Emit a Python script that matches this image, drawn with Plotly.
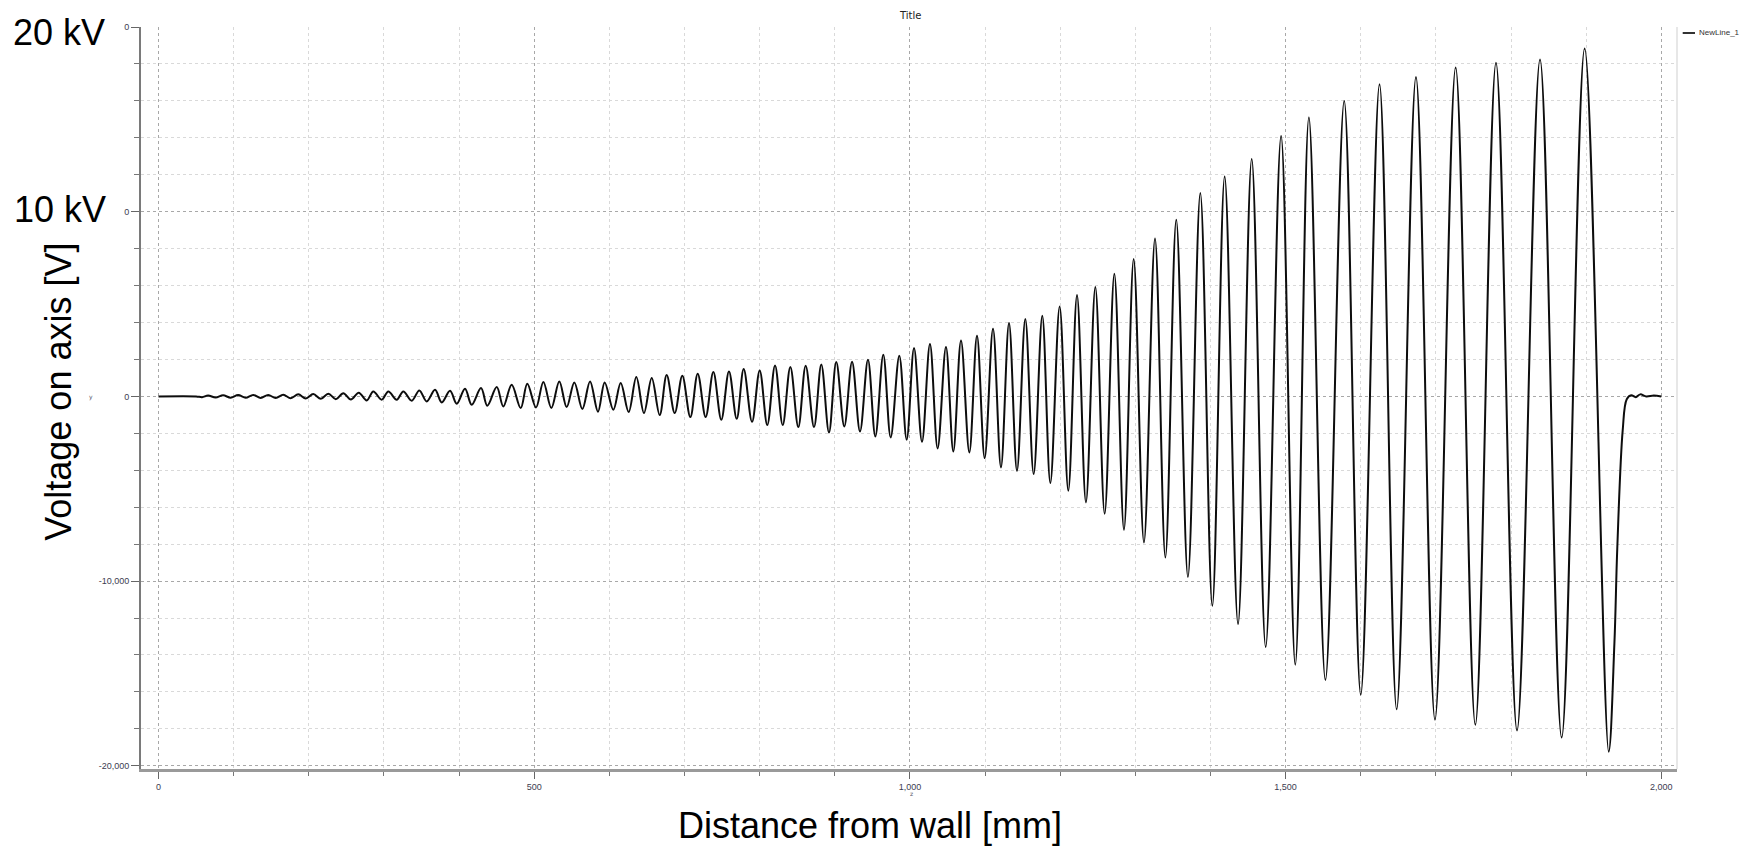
import plotly.graph_objects as go

dist_mm = [
    0, 50, 58, 66, 76, 86, 96, 106, 116, 126, 136, 146, 156, 166, 176, 186, 196, 206, 216, 226,
    236, 246, 256, 266.5, 277.1, 285.9, 297, 305.9, 317, 325.8, 337, 347.1, 357, 368, 377, 388,
    396.9, 407.9, 416.8, 429.2, 437.6, 450.1, 458.9, 470, 482, 490.8, 502.4, 512.2, 522.8, 533.4,
    543.2, 553.4, 564.1, 574.3, 584.9, 593.8, 605.3, 615.1, 625.7, 635.9, 646.1, 656.4, 667, 676.3,
    687, 697.1, 707.8, 717.6, 728.2, 738.4, 749, 759.2, 769.5, 778.8, 789.9, 800.1, 810.2, 820.5,
    830.7, 840.9, 851.5, 861.3, 872.4, 882.1, 892.3, 902, 912.7, 923, 933.6, 944.2, 954, 964.6,
    974.4, 985.9, 995.7, 1005.5, 1016.1, 1026.7, 1036.9, 1048, 1057.8, 1068, 1079.1, 1089.3,
    1099.5, 1110.6, 1121.2, 1131.9, 1142.5, 1153.6, 1164.7, 1176.2, 1186.9, 1199.3, 1210.8,
    1222.4, 1234.3, 1246.8, 1259.2, 1272.1, 1284.9, 1297.8, 1311.5, 1326.2, 1340, 1354.5, 1370,
    1386.5, 1402.5, 1418.9, 1436.7, 1454.9, 1473.5, 1494, 1512.9, 1531, 1553, 1578, 1600, 1625,
    1647.8, 1673.5, 1698.8, 1726.3, 1752.5, 1780, 1808, 1838.6, 1867.4, 1898, 1930, 1937.6,
    1941.4, 1948.6, 1954, 1960, 1966, 1972, 1980, 1990, 2000,
]
volt_v = [
    0, 0, -40, 50, -60, 60, -70, 70, -70, 80, -80, 80, -90, 90, -100, 110, -110, 130, -130, 150,
    -150, 170, -170, 200, -217, 271, -180, 271, -180, 271, -235, 325, -271, 361, -325, 307,
    -397, 415, -451, 451, -505, 505, -542, 632, -632, 686, -600, 780, -632, 812,
    -578, 758, -686, 812, -830, 758, -722, 722, -848, 1047, -903, 993, -1011, 1155,
    -903, 1119, -1119, 1227, -1119, 1318, -1263, 1354, -1209, 1480, -1372, 1408, -1552, 1679,
    -1552, 1588, -1661, 1660, -1661, 1733, -1949, 1859, -1624, 1877, -1895, 1986, -2166, 2256,
    -2220, 2202, -2347, 2617, -2455, 2834, -2816, 2671, -2978, 3032, -3032, 3285,
    -3339, 3664, -3845, 3971, -4025, 4188, -4206, 4368, -4693, 4874, -5108,
    5487, -5740, 5920, -6354, 6642, -7220, 7437, -7906, 8550, -8720, 9567, -9778,
    11012, -11331, 11911, -12323, 12853, -13568, 14100, -14526, 15100, -15350, 16000, -16150, 16900,
    -16940, 17298, -17504, 17807, -17780, 18066, -18088, 18245, -18472, 18830, -19236, -13360,
    -8245, -1857, -150, 60, -40, 110, 0, 50, 0,
]

x_tick_vals = [0, 500, 1000, 1500, 2000]
x_tick_text = ["0", "500", "1,000", "1,500", "2,000"]
y_tick_vals = [-20000, -10000, 0, 10000, 20000]
y_tick_text = ["-20,000", "-10,000", "0", "0", "0"]

# page is 1748x849; the figure sits 8px in from the top-left corner of the page
PAGE_W, PAGE_H, OFF = 1748, 849, 8
W, H = PAGE_W - OFF, PAGE_H - OFF
# plot-area edges in page pixels
L, R, T, B = 141, 1677, 27, 769.5


def px(xp):
    return (xp - L) / (R - L)


def py(yp):
    return (B - yp) / (B - T)


fig = go.Figure()
fig.add_trace(go.Scatter(
    x=dist_mm, y=volt_v, mode="lines", name="NewLine_1",
    line=dict(color="#0d0d0d", width=2, shape="spline", smoothing=1.0),
    showlegend=False,
))

tick_font = dict(family="Liberation Sans, Arial, sans-serif", size=9, color="#3c3c50")
big_font = dict(family="Liberation Sans, Arial, sans-serif", size=36, color="#000000")

fig.update_layout(
    width=W, height=H,
    margin=dict(l=L - OFF, r=PAGE_W - R, t=T - OFF, b=PAGE_H - B, pad=0),
    paper_bgcolor="white", plot_bgcolor="white",
    showlegend=False,
    xaxis=dict(
        range=[-23.3, 2020.9], tickvals=x_tick_vals, ticktext=x_tick_text,
        ticks="outside", ticklen=7, tickcolor="#666", tickwidth=1,
        tickfont=tick_font,
        showgrid=True, gridcolor="#a8a8a8", griddash="dot", gridwidth=1,
        minor=dict(dtick=100, tick0=0, ticks="outside", ticklen=4, tickcolor="#777",
                   showgrid=True, gridcolor="#d9d9d9", griddash="dot", gridwidth=1),
        showline=True, linecolor="#9a9a9a", linewidth=3,
        zeroline=False,
    ),
    yaxis=dict(
        range=[-20173, 20000], tickvals=y_tick_vals, ticktext=y_tick_text,
        ticks="outside", ticklen=8, tickcolor="#666", tickwidth=1,
        tickfont=tick_font,
        showgrid=True, gridcolor="#a8a8a8", griddash="dot", gridwidth=1,
        minor=dict(dtick=2000, tick0=0, ticks="outside", ticklen=5, tickcolor="#777",
                   showgrid=True, gridcolor="#d9d9d9", griddash="dot", gridwidth=1),
        showline=True, linecolor="#7a7a7a", linewidth=2,
        zeroline=False,
    ),
    shapes=[
        # right frame line
        dict(type="line", xref="paper", yref="paper", x0=1, x1=1, y0=0, y1=1,
             line=dict(color="#cfcfcf", width=1)),
        # legend sample line
        dict(type="line", xref="paper", yref="paper", x0=px(1682.7), x1=px(1695), y0=py(33), y1=py(33),
             line=dict(color="#333333", width=2)),
        # outer panel border at right
        dict(type="line", xref="paper", yref="paper", x0=px(1746), x1=px(1746), y0=py(848), y1=py(12),
             line=dict(color="#d0d0d0", width=1)),
    ],
    annotations=[
        dict(text="Title", xref="paper", yref="paper", x=px(910), y=py(15), xanchor="center", yanchor="middle",
             showarrow=False, font=dict(family="DejaVu Sans, sans-serif", size=10, color="#222")),
        dict(text="NewLine_1", xref="paper", yref="paper", x=px(1697), y=py(33), xanchor="left", yanchor="middle",
             showarrow=False, font=dict(family="Liberation Sans, Arial, sans-serif", size=8, color="#333")),
        dict(text="20 kV", xref="paper", yref="paper", x=px(11), y=py(32.5), xanchor="left", yanchor="middle",
             showarrow=False, font=big_font),
        dict(text="10 kV", xref="paper", yref="paper", x=px(12), y=py(209.5), xanchor="left", yanchor="middle",
             showarrow=False, font=big_font),
        dict(text="Voltage on axis [V]", xref="paper", yref="paper", x=px(59), y=py(392), textangle=-90,
             xanchor="center", yanchor="middle", showarrow=False, font=big_font),
        dict(text="Distance from wall [mm]", xref="paper", yref="paper", x=px(870), y=py(826),
             xanchor="center", yanchor="middle", showarrow=False, font=big_font),
        dict(text="y", xref="paper", yref="paper", x=px(91), y=py(397), xanchor="center", yanchor="middle",
             showarrow=False, font=dict(family="DejaVu Sans, sans-serif", size=6, color="#556")),
        dict(text="z", xref="paper", yref="paper", x=px(911), y=py(794), xanchor="center", yanchor="middle",
             showarrow=False, font=dict(family="DejaVu Sans, sans-serif", size=6, color="#556")),
    ],
)

fig.write_html("out.html")
